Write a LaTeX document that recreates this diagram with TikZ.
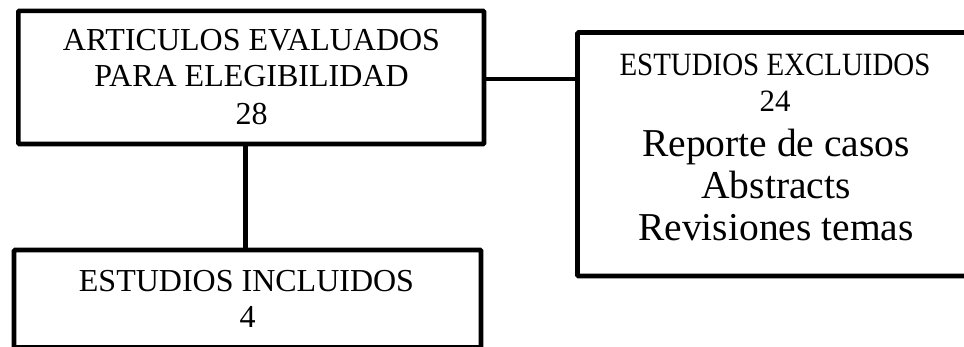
\documentclass[tikz,border=0pt]{standalone}
\usepackage{fontspec}
\setmainfont{Liberation Serif}
\newfontfamily\narrowserif[FakeStretch=0.89]{Liberation Serif}
\begin{document}
\begin{tikzpicture}[x=1pt,y=-1pt,
  box/.style={draw=black,line width=4.6pt,rounded corners=1pt,inner sep=0pt,outer sep=0pt},
  conn/.style={draw=black,line width=4.8pt},
  lbl/.style={anchor=base,inner sep=0pt,font=\fontsize{32}{37}\selectfont},
  capsn/.style={anchor=base,inner sep=0pt,font=\narrowserif\fontsize{32.5}{37}\selectfont},
  numr/.style={anchor=base,inner sep=0pt,font=\fontsize{31}{36}\selectfont},
  big/.style={anchor=base,inner sep=0pt,font=\fontsize{39.5}{42}\selectfont}]
\useasboundingbox (0,0) rectangle (964,346);
\clip (0,0) rectangle (964,346);
% boxes
\node[box,minimum width=465.7pt,minimum height=133.2pt] (b1) at (251.15,77.4) {};
\node[box,minimum width=467pt,minimum height=97.5pt] (b2) at (247.5,298.75) {};
\node[box,minimum width=397.5pt,minimum height=243.5pt] (b3) at (776.25,154.25) {};
% connectors
\coordinate (vx) at (245.3,0);
\coordinate (hy) at (0,79);
\draw[conn] (b1.south -| vx) -- (b2.north -| vx);
\draw[conn] (b1.east |- hy) -- (b3.west |- hy);
% texts
\node[lbl] (t1) at (251.5,50) {ARTICULOS EVALUADOS};
\node[lbl] (t2) at (251.5,86) {PARA ELEGIBILIDAD};
\node[lbl] (t3) at (251.5,124) {28};
\node[lbl] (t4) at (246.5,291) {ESTUDIOS INCLUIDOS};
\node[lbl] (t5) at (247.5,327) {4};
\node[capsn] (t6) at (775,75) {ESTUDIOS EXCLUIDOS};
\node[numr] (t7) at (775,111.7) {24};
\node[big] (t8) at (776,156.7) {Reporte de casos};
\node[big] (t9) at (776,198.3) {Abstracts};
\node[big] (t10) at (776,240.7) {Revisiones temas};
\end{tikzpicture}
\end{document}
